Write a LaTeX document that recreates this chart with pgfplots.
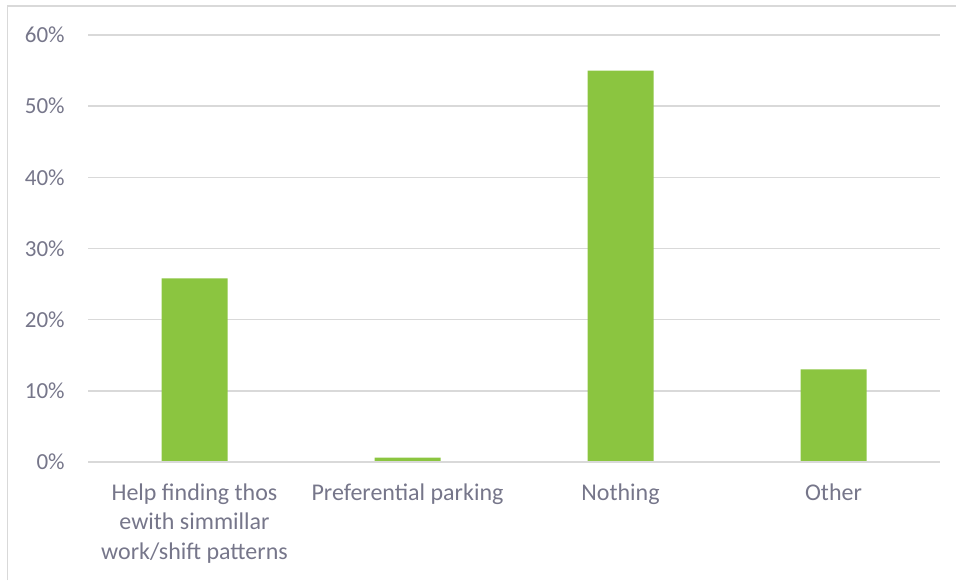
\documentclass[border=0pt]{standalone}
\usepackage{pgfplots}
\pgfplotsset{compat=1.18}
\usepackage{fontspec}
\setmainfont{Carlito}
\definecolor{txt}{RGB}{118,118,138}
\definecolor{grd}{RGB}{217,217,217}
\definecolor{bar}{RGB}{139,197,64}
\begin{document}
\begin{tikzpicture}
\begin{axis}[
  anchor=south west,
  scale only axis, width=426pt, height=213.5pt,
  xmin=-0.5, xmax=3.5, ymin=0, ymax=60,
  axis line style={draw=none},
  axis x line*=bottom,
  ytick={0,10,...,60},
  xtick={0,1,2,3},
  xticklabels={{Help finding thos\\ewith simmillar\\work/shift patterns},{Preferential parking},{Nothing},{Other}},
  major tick length=0pt,
  ymajorgrids, grid style={grd, line width=0.75pt},
  /pgf/number format/assume math mode=true,
  yticklabel={\pgfmathprintnumber{\tick}\%},
  ticklabel style={text=txt},
  yticklabel style={font=\fontsize{11.5}{14}\selectfont, inner sep=0pt, xshift=-11.5pt},
  xticklabel style={font=\fontsize{12}{14.75}\selectfont, inner sep=0pt, yshift=-10.5pt, align=center},
  clip=false,
]
\addplot[ybar, bar width=33pt, fill=bar, draw=none] coordinates {(0,25.8) (1,0.6) (2,55.0) (3,13.0)};
\draw[grd, line width=0.75pt] (axis cs:-0.5,0) -- (axis cs:3.5,0);
\end{axis}
\draw[grd, line width=0.75pt] (-40.25pt,-59pt) -- (-40.25pt,228pt) -- (434pt,228pt);
\pgfresetboundingbox
\useasboundingbox (-44pt,-59pt) rectangle (434pt,231pt);
\end{tikzpicture}
\end{document}
